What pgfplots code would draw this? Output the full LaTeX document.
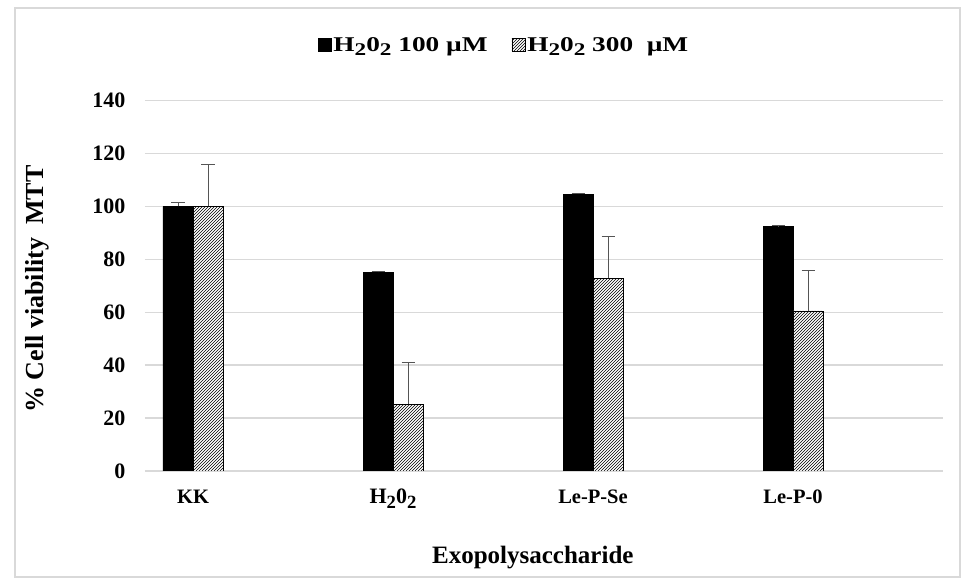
\documentclass[border=0pt]{standalone}
\usepackage{fontspec}
\setmainfont{Liberation Serif}
\newfontfamily\legfont[FakeStretch=1.3]{Liberation Serif}
\usepackage{graphicx}
\usepackage{pgfplots}
\pgfplotsset{compat=1.18}
\usetikzlibrary{patterns}

\definecolor{gridgray}{RGB}{217,217,217}
\definecolor{errgray}{RGB}{85,85,85}

% lowered, slightly reduced subscript
\newcommand{\sub}[1]{\raisebox{-0.42ex}{\scalebox{0.85}{#1}}}
\newcommand{\hoo}{H\sub{2}0\sub{2}}

% Cell viability (MTT), mean and upper error
\pgfplotstableread{
x  y    e
0  100  1.5
1  75.1 0.5
2  104.7 0.4
3  92.4 0.5
}\lowdose
\pgfplotstableread{
x  y    e
0  100  16
1  25.2 15.7
2  72.9 15.7
3  60.5 15.2
}\highdose

\begin{document}
\begin{tikzpicture}[x=1pt,y=1pt]
\useasboundingbox (0,0) rectangle (969,580);
\draw[gridgray, line width=1.5pt] (15,3) rectangle (960,572);
\begin{axis}[
  at={(145pt,109pt)}, anchor=south west,
  scale only axis, width=798pt, height=370.3pt,
  ybar=0pt, bar width=30pt,
  xmin=-0.24, xmax=3.75, ymin=0, ymax=140,
  ytick={0,20,...,140},
  xtick={0,1,2,3},
  xticklabels={KK,{\fontsize{22}{24}\selectfont\hoo},Le-P-Se,Le-P-0},
  axis line style={draw=none},
  major tick length=0pt,
  ymajorgrids, grid style={gridgray, line width=1.5pt},
  /pgf/number format/assume math mode=true,
  yticklabel style={font=\fontsize{22}{24}\selectfont\bfseries, xshift=-16pt},
  xticklabel style={font=\fontsize{20.5}{24}\selectfont\bfseries, anchor=base, yshift=-33pt},
  xlabel={Exopolysaccharide},
  ylabel={\% Cell viability\ \ MTT},
  xlabel style={font=\fontsize{25}{28}\selectfont\bfseries, at={(axis description cs:0.486,-0.235)}, anchor=center},
  ylabel style={font=\fontsize{26}{28}\selectfont\bfseries, at={(axis description cs:-0.135,0.491)}, anchor=center},
  legend columns=2,
  legend style={draw=none, at={(axis description cs:0.45,1.15)}, anchor=center,
    font=\legfont\fontsize{21}{24}\selectfont\bfseries,
    /tikz/every even column/.append style={column sep=22pt},
    inner sep=0pt},
  legend image code/.code={\draw[#1, line width=0.6pt] (0pt,-6pt) rectangle (13pt,7pt);},
  error bars/y dir=plus, error bars/y explicit,
  error bars/error bar style={errgray, line width=1pt},
  error bars/error mark options={errgray, line width=1pt, rotate=90, mark size=6.5pt},
]
\addplot[fill=black, draw=black] table[x=x, y=y, y error=e] {\lowdose};
\addplot[fill=white, draw=black, line width=0.8pt, postaction={pattern=north east lines}] table[x=x, y=y, y error=e] {\highdose};
\legend{\hoo\ 100 µM, \hoo\ 300\ \ µM}
\end{axis}
\end{tikzpicture}
\end{document}
